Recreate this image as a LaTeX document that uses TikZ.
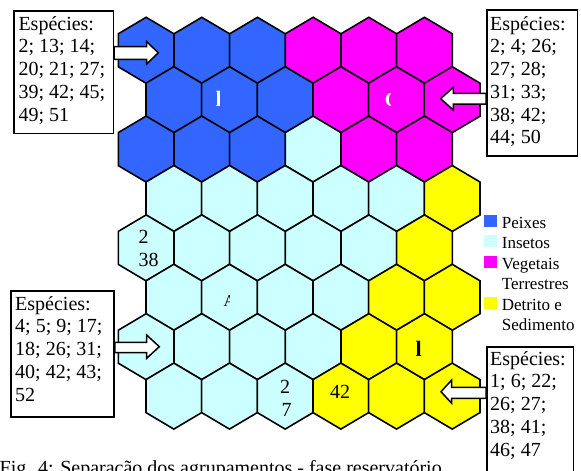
\documentclass[tikz,border=0pt]{standalone}
\usepackage{fontspec}
\setmainfont{Liberation Serif}
\definecolor{hblue}{RGB}{51,102,255}
\definecolor{hcyan}{RGB}{204,255,255}
\definecolor{hmag}{RGB}{255,0,255}
\definecolor{hyel}{RGB}{255,255,0}
\newcommand\boxlines[1]{\parbox[t]{95pt}{\raggedright #1}}
\begin{document}
\begin{tikzpicture}[x=1pt,y=-1pt,
  hexcell/.style={draw=black,line width=1.6pt,line join=miter},
  spbox/.style={draw=black,line width=1.5pt,fill=white,inner sep=0pt,anchor=north west},
  sptext/.style={inner sep=0pt,anchor=base west,font=\fontsize{20}{22.8}\selectfont},
  blockarrow/.style={draw=black,line width=1.5pt,fill=white,line join=miter},
  legsq/.style={inner sep=0pt,minimum width=13pt,minimum height=12pt,anchor=south west},
  legtext/.style={inner sep=0pt,anchor=base west,font=\fontsize{17}{20.3}\selectfont},
  celltext/.style={inner sep=0pt,anchor=base west,font=\fontsize{20}{23}\selectfont},
  glyph/.style={inner sep=0pt,anchor=base west}]
\useasboundingbox (0,0) rectangle (581,471);
\clip (0,0) rectangle (581,471);
\fill[white] (0,0) rectangle (581,471);
% hexagon grid
\foreach \r/\cols in {
  0/{hblue,hblue,hblue,hmag,hmag,hmag},
  1/{hblue,hblue,hblue,hmag,hmag,hmag},
  2/{hblue,hblue,hblue,hcyan,hmag,hmag},
  3/{hcyan,hcyan,hcyan,hcyan,hcyan,hyel},
  4/{hcyan,hcyan,hcyan,hcyan,hcyan,hyel},
  5/{hcyan,hcyan,hcyan,hcyan,hyel,hyel},
  6/{hcyan,hcyan,hcyan,hcyan,hyel,hyel},
  7/{hcyan,hcyan,hcyan,hyel,hyel,hyel}}{
  \foreach \col [count=\i from 0] in \cols {
    \pgfmathsetmacro\cx{146.13+55.67*\i+27.7*mod(\r,2)}
    \pgfmathsetmacro\cy{50.3+49.4*\r}
    \filldraw[hexcell,fill=\col] (\cx,\cy-33) -- (\cx+27.83,\cy-16.5) -- (\cx+27.83,\cy+16.5)
      -- (\cx,\cy+33) -- (\cx-27.83,\cy+16.5) -- (\cx-27.83,\cy-16.5) -- cycle;
  }
}
% labels inside cells
\node[celltext] (c1) at (138.5,243.3) {2};
\node[celltext] (c2) at (138.5,266.7) {38};
\node[celltext] (c3) at (280,393.3) {2};
\node[celltext] (c4) at (281.5,416.7) {7};
\node[celltext] (c5) at (330,398.3) {42};
\node[glyph,font=\fontsize{22}{22}\selectfont\bfseries] (g4) at (415.5,356.7) {l};
\begin{scope}
  \clip (205,85) rectangle (219.4,112);
  \node[glyph,text=white,font=\fontsize{22}{22}\selectfont\bfseries] (g1) at (215.5,106.7) {l};
\end{scope}
\begin{scope}
  \clip (380,85) rectangle (390,112);
  \node[glyph,text=white,font=\fontsize{20}{20}\selectfont\bfseries] (g2) at (384.6,106.7) {O};
\end{scope}
\begin{scope}
  \clip (218,288) rectangle (229.8,310);
  \node[glyph,font=\fontsize{16.5}{16.5}\selectfont] (g3) at (223.5,306) {A};
\end{scope}
% species boxes
\node[spbox,minimum width=99.4pt,minimum height=122.7pt] (b1) at (13.3,10) {};
\node[sptext] (t1) at (18.3,30) {\boxlines{Espécies:\\2; 13; 14;\\20; 21; 27;\\39; 42; 45;\\49; 51}};
\node[spbox,minimum width=90.7pt,minimum height=145.7pt] (b2) at (486,9.3) {};
\node[sptext] (t2) at (490,30) {\boxlines{Espécies:\\2; 4; 26;\\27; 28;\\31; 33;\\38; 42;\\44; 50}};
\node[spbox,minimum width=103.3pt,minimum height=126pt] (b3) at (10,290) {};
\node[sptext] (t3) at (15,310) {\boxlines{Espécies:\\4; 5; 9; 17;\\18; 26; 31;\\40; 42; 43;\\52}};
\node[spbox,minimum width=86.7pt,minimum height=134pt] (b4) at (486,346) {};
\node[sptext] (t4) at (490,365) {\boxlines{Espécies:\\1; 6; 22;\\26; 27;\\38; 41;\\46; 47}};
% block arrows
\coordinate (a1tip) at (158.3,52.8);
\coordinate (a2tip) at (440.7,98.7);
\coordinate (a3tip) at (159.3,346.7);
\coordinate (a4tip) at (441,391.7);
\draw[blockarrow] (b1.east |- 0,46.7) -- (146.7,46.7) -- (146.7,41.7) -- (a1tip)
  -- (146.7,64) -- (146.7,59.3) -- (b1.east |- 0,59.3) -- cycle;
\draw[blockarrow] (b2.west |- 0,93.3) -- (453.3,93.3) -- (453.3,87.3) -- (a2tip)
  -- (453.3,110) -- (453.3,104) -- (b2.west |- 0,104) -- cycle;
\draw[blockarrow] (b3.east |- 0,342.3) -- (146.7,342.3) -- (146.7,335) -- (a3tip)
  -- (146.7,358.3) -- (146.7,352.7) -- (b3.east |- 0,352.7) -- cycle;
\draw[blockarrow] (b4.west |- 0,387.3) -- (451.7,387.3) -- (451.7,380) -- (a4tip)
  -- (451.7,403.3) -- (451.7,398.3) -- (b4.west |- 0,398.3) -- cycle;
% legend
\node[legsq,fill=hblue] (l1) at (484,227.3) {};
\node[legsq,fill=hcyan] (l2) at (484,247.3) {};
\node[legsq,fill=hmag] (l3) at (484,268) {};
\node[legsq,fill=hyel] (l4) at (484,309) {};
\node[legtext] (lt1) at (501.7,228.3) {Peixes};
\node[legtext] (lt2) at (501.7,248.3) {Insetos};
\node[legtext] (lt3) at (501.7,269) {Vegetais};
\node[legtext] (lt3b) at (501.7,289.3) {Terrestres};
\node[legtext] (lt4) at (501.7,310) {Detrito e};
\node[legtext] (lt4b) at (501.7,330) {Sedimento};
% caption
\node[glyph,font=\fontsize{20}{24}\selectfont] (cap) at (-0.5,474) {Fig. 4: Separação dos agrupamentos - fase reservatório};
\end{tikzpicture}
\end{document}
